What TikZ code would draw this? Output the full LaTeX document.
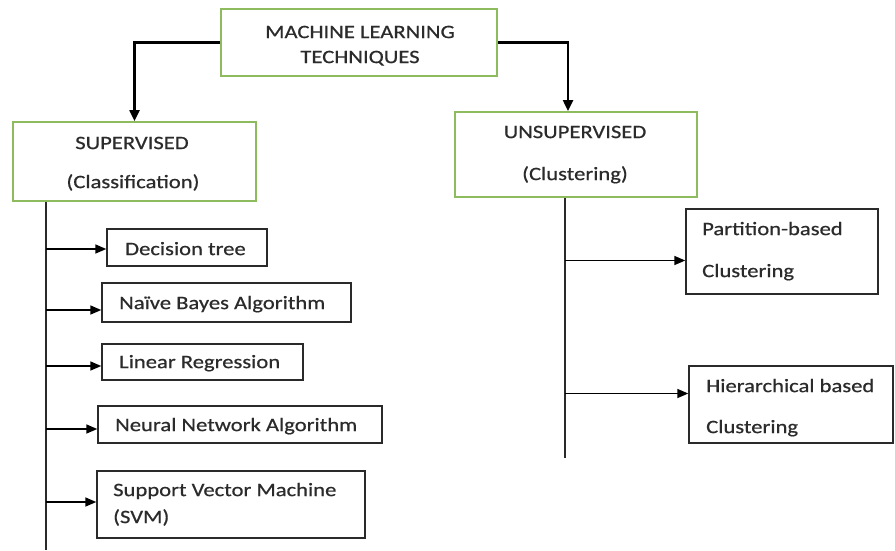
\documentclass[tikz,border=0pt]{standalone}
\usepackage{fontspec}
\setmainfont{Carlito}[FakeStretch=1.19,FakeBold=0.6]
\usetikzlibrary{arrows.meta,calc}
\definecolor{boxgreen}{HTML}{8DBB5E}
\definecolor{txtgray}{HTML}{2B2B2B}
\definecolor{linegray}{HTML}{2A2A2A}
\begin{document}
\begin{tikzpicture}[x=1pt,y=-1pt,
  gbox/.style={draw=boxgreen,line width=2pt,inner sep=0pt,rectangle},
  kbox/.style={draw=linegray,line width=1.4pt,inner sep=0pt,rectangle},
  txt/.style={inner sep=0pt,text=txtgray,font=\fontsize{19}{22}\selectfont,text height=12.2pt,text depth=0pt},
  thk/.style={draw=black,line width=2.4pt,-{Triangle[length=11pt,width=10pt]}},
  ln/.style={draw=linegray,line width=1.5pt},
  arr/.style={draw=black,line width=1.5pt,-{Triangle[length=11pt,width=9pt]}}]
\useasboundingbox (0,0) rectangle (895,550);
\fill[white] (0,0) rectangle (895,550);
% boxes
\node[gbox,minimum width=276pt,minimum height=67pt] (top) at (359,42.5) {};
\node[gbox,minimum width=243pt,minimum height=79pt] (sup) at (134.5,161.5) {};
\node[gbox,minimum width=242pt,minimum height=85pt] (unsup) at (576,154.5) {};
\node[kbox,minimum width=160pt,minimum height=37pt] (dt) at (187,247.5) {};
\node[kbox,minimum width=249pt,minimum height=39pt] (nb) at (226.5,302.5) {};
\node[kbox,minimum width=201pt,minimum height=36pt] (lr) at (202.5,362) {};
\node[kbox,minimum width=284pt,minimum height=37pt] (nn) at (240,424.5) {};
\node[kbox,minimum width=268pt,minimum height=67pt] (svm) at (231,504.5) {};
\node[kbox,minimum width=192pt,minimum height=85pt] (part) at (782,251.5) {};
\node[kbox,minimum width=204pt,minimum height=77pt] (hier) at (791,404.5) {};
% texts
\node[txt] (t1) at (360,32) {MACHINE LEARNING};
\node[txt] (t2) at (360,57) {TECHNIQUES};
\node[txt] (s1) at (132,143) {SUPERVISED};
\node[txt] (s2) at (133,182) {(Classification)};
\node[txt] (u1) at (575,132) {UNSUPERVISED};
\node[txt] (u2) at (575,174) {(Clustering)};
\node[txt,anchor=west] (dtt) at (125,249) {Decision tree};
\node[txt,anchor=west] (nbt) at (119,303) {Naïve Bayes Algorithm};
\node[txt,anchor=west] (lrt) at (119,362) {Linear Regression};
\node[txt,anchor=west] (nnt) at (115,425) {Neural Network Algorithm};
\node[txt,anchor=west] (sv1) at (113,490) {Support Vector Machine};
\node[txt,anchor=west] (sv2) at (113,517) {(SVM)};
\node[txt,anchor=west] (p1) at (702,229) {Partition-based};
\node[txt,anchor=west] (p2) at (702,271) {Clustering};
\node[txt,anchor=west] (h1) at (706,386) {Hierarchical based};
\node[txt,anchor=west] (h2) at (706,427) {Clustering};
% top connectors
\draw[thk] (top.west) -| (sup.north);
\draw[thk] (top.east) -| ($(unsup.north)+(-8,0)$);
% trunks
\coordinate (lend) at (46,550);
\coordinate (rend) at (565,458);
\draw[ln] (sup.south -| lend) -- (lend);
\draw[ln] (unsup.south -| rend) -- (rend);
% branch arrows
\draw[arr] ($(lend |- dt.west)+(0,1.5)$) -- ($(dt.west)+(0,1.5)$);
\draw[arr] ($(lend |- nb.west)+(0,7.5)$) -- ($(nb.west)+(0,7.5)$);
\draw[arr] ($(lend |- lr.west)+(0,4)$) -- ($(lr.west)+(0,4)$);
\draw[arr] ($(lend |- nn.west)+(0,4.5)$) -- ($(nn.west)+(0,4.5)$);
\draw[arr] ($(lend |- svm.west)+(0,-2.5)$) -- ($(svm.west)+(0,-2.5)$);
\draw[arr] ($(rend |- part.west)+(0,9)$) -- ($(part.west)+(0,9)$);
\draw[arr] ($(rend |- hier.west)+(0,-11)$) -- ($(hier.west)+(0,-11)$);
\end{tikzpicture}
\end{document}
